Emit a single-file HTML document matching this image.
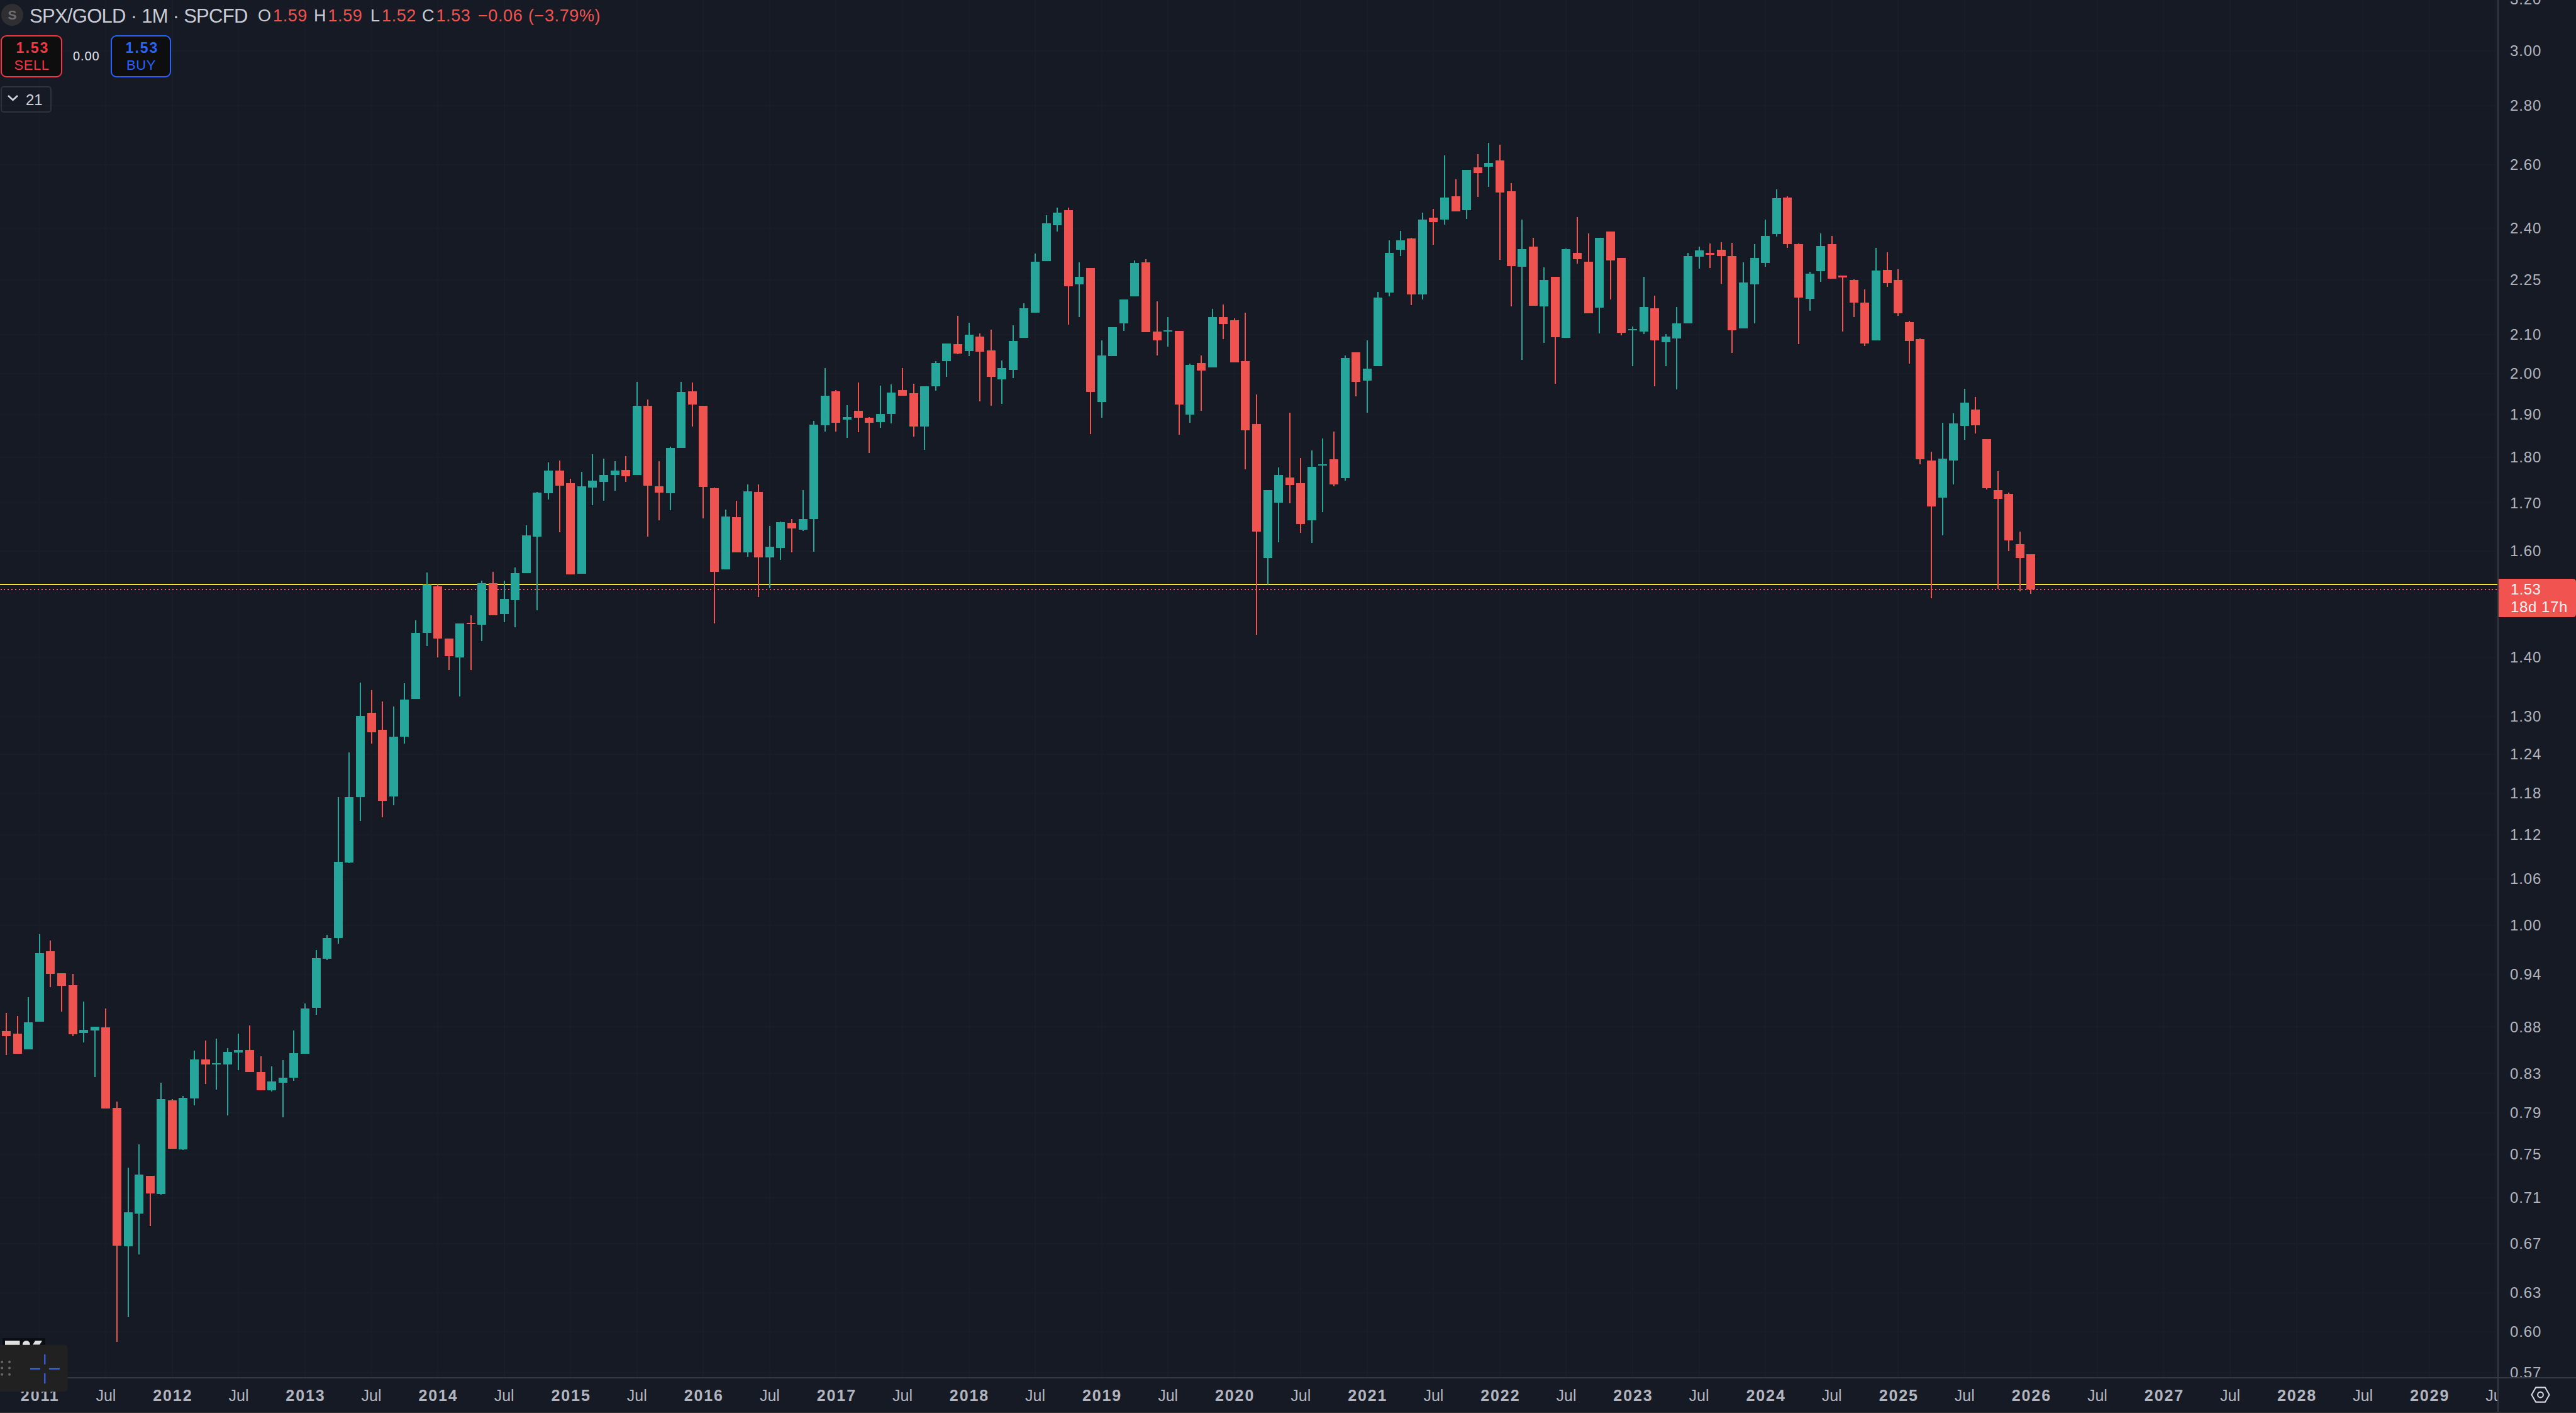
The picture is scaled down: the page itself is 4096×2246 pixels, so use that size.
<!DOCTYPE html>
<html><head><meta charset="utf-8"><style>
html,body{margin:0;padding:0}
body{width:4096px;height:2246px;background:#161a25;position:relative;overflow:hidden;font-family:"Liberation Sans",sans-serif}
svg{position:absolute;left:0;top:0}
.tl{position:absolute;top:2206px;width:200px;text-align:center;font-size:25px;color:#b2b5be;line-height:1}
.yr{letter-spacing:1.9px;text-indent:1.9px}
.pl{position:absolute;left:3991px;font-size:24px;color:#b2b5be;line-height:1;letter-spacing:0.9px}
.t{position:absolute;white-space:nowrap;line-height:1}
.ov{position:absolute;white-space:nowrap;line-height:1;font-size:27px;color:#c9ccd4;top:12px}
.rd{color:#f0534f;letter-spacing:0.6px}
.ov .rd{padding-left:3px}
.ov.rd{padding-left:0}
</style></head><body>
<svg width="4096" height="2246" viewBox="0 0 4096 2246" shape-rendering="crispEdges">
<rect x="62" y="0" width="2" height="2189" fill="#191d28"/>
<rect x="167" y="0" width="2" height="2189" fill="#191d28"/>
<rect x="273" y="0" width="2" height="2189" fill="#191d28"/>
<rect x="378" y="0" width="2" height="2189" fill="#191d28"/>
<rect x="484" y="0" width="2" height="2189" fill="#191d28"/>
<rect x="590" y="0" width="2" height="2189" fill="#191d28"/>
<rect x="695" y="0" width="2" height="2189" fill="#191d28"/>
<rect x="801" y="0" width="2" height="2189" fill="#191d28"/>
<rect x="906" y="0" width="2" height="2189" fill="#191d28"/>
<rect x="1012" y="0" width="2" height="2189" fill="#191d28"/>
<rect x="1117" y="0" width="2" height="2189" fill="#191d28"/>
<rect x="1223" y="0" width="2" height="2189" fill="#191d28"/>
<rect x="1328" y="0" width="2" height="2189" fill="#191d28"/>
<rect x="1434" y="0" width="2" height="2189" fill="#191d28"/>
<rect x="1540" y="0" width="2" height="2189" fill="#191d28"/>
<rect x="1645" y="0" width="2" height="2189" fill="#191d28"/>
<rect x="1751" y="0" width="2" height="2189" fill="#191d28"/>
<rect x="1856" y="0" width="2" height="2189" fill="#191d28"/>
<rect x="1962" y="0" width="2" height="2189" fill="#191d28"/>
<rect x="2067" y="0" width="2" height="2189" fill="#191d28"/>
<rect x="2173" y="0" width="2" height="2189" fill="#191d28"/>
<rect x="2278" y="0" width="2" height="2189" fill="#191d28"/>
<rect x="2384" y="0" width="2" height="2189" fill="#191d28"/>
<rect x="2489" y="0" width="2" height="2189" fill="#191d28"/>
<rect x="2595" y="0" width="2" height="2189" fill="#191d28"/>
<rect x="2701" y="0" width="2" height="2189" fill="#191d28"/>
<rect x="2806" y="0" width="2" height="2189" fill="#191d28"/>
<rect x="2912" y="0" width="2" height="2189" fill="#191d28"/>
<rect x="3017" y="0" width="2" height="2189" fill="#191d28"/>
<rect x="3123" y="0" width="2" height="2189" fill="#191d28"/>
<rect x="3228" y="0" width="2" height="2189" fill="#191d28"/>
<rect x="3334" y="0" width="2" height="2189" fill="#191d28"/>
<rect x="3439" y="0" width="2" height="2189" fill="#191d28"/>
<rect x="3545" y="0" width="2" height="2189" fill="#191d28"/>
<rect x="3651" y="0" width="2" height="2189" fill="#191d28"/>
<rect x="3756" y="0" width="2" height="2189" fill="#191d28"/>
<rect x="3862" y="0" width="2" height="2189" fill="#191d28"/>
<rect x="3967" y="0" width="2" height="2189" fill="#191d28"/>
<rect x="0" y="-2" width="3971" height="2" fill="#191d28"/>
<rect x="0" y="80" width="3971" height="2" fill="#191d28"/>
<rect x="0" y="167" width="3971" height="2" fill="#191d28"/>
<rect x="0" y="261" width="3971" height="2" fill="#191d28"/>
<rect x="0" y="362" width="3971" height="2" fill="#191d28"/>
<rect x="0" y="444" width="3971" height="2" fill="#191d28"/>
<rect x="0" y="531" width="3971" height="2" fill="#191d28"/>
<rect x="0" y="593" width="3971" height="2" fill="#191d28"/>
<rect x="0" y="658" width="3971" height="2" fill="#191d28"/>
<rect x="0" y="726" width="3971" height="2" fill="#191d28"/>
<rect x="0" y="798" width="3971" height="2" fill="#191d28"/>
<rect x="0" y="875" width="3971" height="2" fill="#191d28"/>
<rect x="0" y="1044" width="3971" height="2" fill="#191d28"/>
<rect x="0" y="1138" width="3971" height="2" fill="#191d28"/>
<rect x="0" y="1198" width="3971" height="2" fill="#191d28"/>
<rect x="0" y="1260" width="3971" height="2" fill="#191d28"/>
<rect x="0" y="1326" width="3971" height="2" fill="#191d28"/>
<rect x="0" y="1396" width="3971" height="2" fill="#191d28"/>
<rect x="0" y="1470" width="3971" height="2" fill="#191d28"/>
<rect x="0" y="1548" width="3971" height="2" fill="#191d28"/>
<rect x="0" y="1631" width="3971" height="2" fill="#191d28"/>
<rect x="0" y="1705" width="3971" height="2" fill="#191d28"/>
<rect x="0" y="1768" width="3971" height="2" fill="#191d28"/>
<rect x="0" y="1834" width="3971" height="2" fill="#191d28"/>
<rect x="0" y="1903" width="3971" height="2" fill="#191d28"/>
<rect x="0" y="1976" width="3971" height="2" fill="#191d28"/>
<rect x="0" y="2054" width="3971" height="2" fill="#191d28"/>
<rect x="0" y="2116" width="3971" height="2" fill="#191d28"/>
<rect x="0" y="2181" width="3971" height="2" fill="#191d28"/>
<rect x="0" y="928" width="3971" height="2" fill="#f2e53a"/>
<line x1="0.5" y1="937" x2="3971" y2="937" stroke="#f0607a" stroke-width="2" stroke-dasharray="2 3.94"/>
<rect x="9" y="1609.6" width="2" height="66.9" fill="#ef5350"/>
<rect x="3" y="1639.3" width="14" height="7.4" fill="#ef5350"/>
<rect x="27" y="1614.5" width="2" height="60.0" fill="#ef5350"/>
<rect x="21" y="1643.3" width="14" height="31.2" fill="#ef5350"/>
<rect x="44" y="1584.8" width="2" height="83.2" fill="#26a69a"/>
<rect x="38" y="1624.9" width="14" height="43.1" fill="#26a69a"/>
<rect x="62" y="1484.7" width="2" height="139.7" fill="#26a69a"/>
<rect x="56" y="1514.9" width="14" height="109.5" fill="#26a69a"/>
<rect x="79" y="1494.6" width="2" height="74.3" fill="#ef5350"/>
<rect x="73" y="1512.4" width="14" height="35.7" fill="#ef5350"/>
<rect x="97" y="1547.1" width="2" height="60.5" fill="#ef5350"/>
<rect x="91" y="1547.1" width="14" height="20.3" fill="#ef5350"/>
<rect x="115" y="1548.1" width="2" height="98.6" fill="#ef5350"/>
<rect x="109" y="1566.0" width="14" height="77.8" fill="#ef5350"/>
<rect x="132" y="1591.7" width="2" height="65.4" fill="#26a69a"/>
<rect x="126" y="1636.8" width="14" height="5.5" fill="#26a69a"/>
<rect x="150" y="1632.4" width="2" height="79.2" fill="#26a69a"/>
<rect x="144" y="1632.4" width="14" height="5.9" fill="#26a69a"/>
<rect x="167" y="1602.6" width="2" height="159.6" fill="#ef5350"/>
<rect x="161" y="1633.4" width="14" height="128.8" fill="#ef5350"/>
<rect x="185" y="1751.3" width="2" height="381.6" fill="#ef5350"/>
<rect x="179" y="1761.2" width="14" height="219.0" fill="#ef5350"/>
<rect x="203" y="1856.3" width="2" height="236.9" fill="#26a69a"/>
<rect x="197" y="1927.2" width="14" height="54.0" fill="#26a69a"/>
<rect x="220" y="1819.2" width="2" height="174.9" fill="#26a69a"/>
<rect x="214" y="1867.2" width="14" height="61.5" fill="#26a69a"/>
<rect x="238" y="1868.7" width="2" height="79.8" fill="#ef5350"/>
<rect x="232" y="1868.7" width="14" height="28.3" fill="#ef5350"/>
<rect x="255" y="1720.6" width="2" height="178.4" fill="#26a69a"/>
<rect x="249" y="1747.3" width="14" height="150.2" fill="#26a69a"/>
<rect x="273" y="1747.3" width="2" height="78.3" fill="#ef5350"/>
<rect x="267" y="1748.8" width="14" height="76.8" fill="#ef5350"/>
<rect x="290" y="1742.4" width="2" height="85.2" fill="#26a69a"/>
<rect x="284" y="1745.3" width="14" height="81.3" fill="#26a69a"/>
<rect x="308" y="1669.5" width="2" height="87.7" fill="#26a69a"/>
<rect x="302" y="1684.4" width="14" height="61.4" fill="#26a69a"/>
<rect x="326" y="1654.2" width="2" height="68.3" fill="#ef5350"/>
<rect x="320" y="1684.4" width="14" height="7.4" fill="#ef5350"/>
<rect x="343" y="1650.7" width="2" height="80.8" fill="#26a69a"/>
<rect x="337" y="1690.3" width="14" height="2.0" fill="#26a69a"/>
<rect x="361" y="1665.6" width="2" height="107.5" fill="#26a69a"/>
<rect x="355" y="1671.5" width="14" height="20.3" fill="#26a69a"/>
<rect x="378" y="1643.3" width="2" height="57.4" fill="#26a69a"/>
<rect x="372" y="1668.5" width="14" height="4.0" fill="#26a69a"/>
<rect x="396" y="1630.4" width="2" height="73.3" fill="#ef5350"/>
<rect x="390" y="1668.5" width="14" height="35.2" fill="#ef5350"/>
<rect x="414" y="1679.4" width="2" height="53.6" fill="#ef5350"/>
<rect x="408" y="1704.2" width="14" height="28.8" fill="#ef5350"/>
<rect x="431" y="1695.3" width="2" height="39.6" fill="#26a69a"/>
<rect x="425" y="1719.1" width="14" height="13.4" fill="#26a69a"/>
<rect x="449" y="1685.4" width="2" height="90.7" fill="#26a69a"/>
<rect x="443" y="1712.6" width="14" height="8.0" fill="#26a69a"/>
<rect x="466" y="1638.3" width="2" height="79.7" fill="#26a69a"/>
<rect x="460" y="1674.0" width="14" height="38.6" fill="#26a69a"/>
<rect x="484" y="1594.7" width="2" height="80.3" fill="#26a69a"/>
<rect x="478" y="1603.1" width="14" height="71.9" fill="#26a69a"/>
<rect x="502" y="1510.0" width="2" height="103.0" fill="#26a69a"/>
<rect x="496" y="1523.0" width="14" height="79.0" fill="#26a69a"/>
<rect x="519" y="1486.0" width="2" height="40.0" fill="#26a69a"/>
<rect x="513" y="1491.0" width="14" height="33.0" fill="#26a69a"/>
<rect x="537" y="1267.0" width="2" height="233.0" fill="#26a69a"/>
<rect x="531" y="1369.5" width="14" height="121.5" fill="#26a69a"/>
<rect x="554" y="1195.6" width="2" height="176.4" fill="#26a69a"/>
<rect x="548" y="1267.0" width="14" height="104.0" fill="#26a69a"/>
<rect x="572" y="1084.6" width="2" height="220.0" fill="#26a69a"/>
<rect x="566" y="1138.0" width="14" height="129.0" fill="#26a69a"/>
<rect x="590" y="1097.0" width="2" height="85.0" fill="#ef5350"/>
<rect x="584" y="1132.6" width="14" height="30.9" fill="#ef5350"/>
<rect x="607" y="1114.8" width="2" height="184.0" fill="#ef5350"/>
<rect x="601" y="1160.0" width="14" height="112.7" fill="#ef5350"/>
<rect x="625" y="1123.0" width="2" height="156.5" fill="#26a69a"/>
<rect x="619" y="1171.0" width="14" height="95.0" fill="#26a69a"/>
<rect x="642" y="1086.0" width="2" height="96.0" fill="#26a69a"/>
<rect x="636" y="1112.0" width="14" height="59.0" fill="#26a69a"/>
<rect x="660" y="985.7" width="2" height="125.0" fill="#26a69a"/>
<rect x="654" y="1005.6" width="14" height="105.1" fill="#26a69a"/>
<rect x="678" y="910.0" width="2" height="117.0" fill="#26a69a"/>
<rect x="672" y="929.4" width="14" height="76.6" fill="#26a69a"/>
<rect x="695" y="929.0" width="2" height="115.8" fill="#ef5350"/>
<rect x="689" y="932.0" width="14" height="83.0" fill="#ef5350"/>
<rect x="713" y="1015.0" width="2" height="50.0" fill="#ef5350"/>
<rect x="707" y="1015.0" width="14" height="27.7" fill="#ef5350"/>
<rect x="730" y="991.0" width="2" height="115.5" fill="#26a69a"/>
<rect x="724" y="991.0" width="14" height="53.8" fill="#26a69a"/>
<rect x="748" y="978.0" width="2" height="87.0" fill="#ef5350"/>
<rect x="742" y="990.0" width="14" height="2.0" fill="#ef5350"/>
<rect x="765" y="922.6" width="2" height="96.1" fill="#26a69a"/>
<rect x="759" y="926.7" width="14" height="66.3" fill="#26a69a"/>
<rect x="783" y="908.8" width="2" height="68.7" fill="#ef5350"/>
<rect x="777" y="926.7" width="14" height="50.8" fill="#ef5350"/>
<rect x="801" y="922.6" width="2" height="65.9" fill="#26a69a"/>
<rect x="795" y="952.0" width="14" height="24.0" fill="#26a69a"/>
<rect x="818" y="902.0" width="2" height="94.7" fill="#26a69a"/>
<rect x="812" y="911.0" width="14" height="43.0" fill="#26a69a"/>
<rect x="836" y="834.6" width="2" height="76.4" fill="#26a69a"/>
<rect x="830" y="850.5" width="14" height="60.5" fill="#26a69a"/>
<rect x="853" y="782.0" width="2" height="188.4" fill="#26a69a"/>
<rect x="847" y="783.0" width="14" height="69.7" fill="#26a69a"/>
<rect x="871" y="735.0" width="2" height="59.2" fill="#26a69a"/>
<rect x="865" y="747.5" width="14" height="36.7" fill="#26a69a"/>
<rect x="889" y="731.9" width="2" height="113.6" fill="#ef5350"/>
<rect x="883" y="748.4" width="14" height="23.3" fill="#ef5350"/>
<rect x="906" y="760.8" width="2" height="152.0" fill="#ef5350"/>
<rect x="900" y="768.0" width="14" height="144.8" fill="#ef5350"/>
<rect x="924" y="750.0" width="2" height="161.9" fill="#26a69a"/>
<rect x="918" y="773.3" width="14" height="138.6" fill="#26a69a"/>
<rect x="941" y="722.0" width="2" height="80.9" fill="#26a69a"/>
<rect x="935" y="764.0" width="14" height="10.9" fill="#26a69a"/>
<rect x="959" y="729.0" width="2" height="67.0" fill="#26a69a"/>
<rect x="953" y="754.6" width="14" height="10.9" fill="#26a69a"/>
<rect x="977" y="732.8" width="2" height="46.7" fill="#26a69a"/>
<rect x="971" y="747.5" width="14" height="7.1" fill="#26a69a"/>
<rect x="994" y="725.0" width="2" height="41.0" fill="#ef5350"/>
<rect x="988" y="746.8" width="14" height="10.0" fill="#ef5350"/>
<rect x="1012" y="607.3" width="2" height="147.3" fill="#26a69a"/>
<rect x="1006" y="644.7" width="14" height="109.9" fill="#26a69a"/>
<rect x="1029" y="634.7" width="2" height="218.0" fill="#ef5350"/>
<rect x="1023" y="644.7" width="14" height="127.0" fill="#ef5350"/>
<rect x="1047" y="732.8" width="2" height="94.1" fill="#ef5350"/>
<rect x="1041" y="772.7" width="14" height="10.6" fill="#ef5350"/>
<rect x="1065" y="709.5" width="2" height="101.2" fill="#26a69a"/>
<rect x="1059" y="712.0" width="14" height="72.2" fill="#26a69a"/>
<rect x="1082" y="607.3" width="2" height="104.7" fill="#26a69a"/>
<rect x="1076" y="623.2" width="14" height="88.8" fill="#26a69a"/>
<rect x="1100" y="608.3" width="2" height="70.0" fill="#ef5350"/>
<rect x="1094" y="622.3" width="14" height="20.2" fill="#ef5350"/>
<rect x="1117" y="644.7" width="2" height="179.3" fill="#ef5350"/>
<rect x="1111" y="644.7" width="14" height="129.5" fill="#ef5350"/>
<rect x="1135" y="774.9" width="2" height="215.8" fill="#ef5350"/>
<rect x="1129" y="775.5" width="14" height="133.3" fill="#ef5350"/>
<rect x="1153" y="810.0" width="2" height="95.0" fill="#26a69a"/>
<rect x="1147" y="821.0" width="14" height="84.0" fill="#26a69a"/>
<rect x="1170" y="796.0" width="2" height="82.2" fill="#ef5350"/>
<rect x="1164" y="822.2" width="14" height="56.0" fill="#ef5350"/>
<rect x="1188" y="769.6" width="2" height="115.8" fill="#26a69a"/>
<rect x="1182" y="780.5" width="14" height="97.1" fill="#26a69a"/>
<rect x="1205" y="770.2" width="2" height="178.4" fill="#ef5350"/>
<rect x="1199" y="782.0" width="14" height="104.0" fill="#ef5350"/>
<rect x="1223" y="835.6" width="2" height="99.6" fill="#26a69a"/>
<rect x="1217" y="868.9" width="14" height="17.1" fill="#26a69a"/>
<rect x="1240" y="829.4" width="2" height="60.6" fill="#26a69a"/>
<rect x="1234" y="830.0" width="14" height="40.5" fill="#26a69a"/>
<rect x="1258" y="825.3" width="2" height="52.9" fill="#ef5350"/>
<rect x="1252" y="831.0" width="14" height="8.6" fill="#ef5350"/>
<rect x="1276" y="778.9" width="2" height="65.1" fill="#26a69a"/>
<rect x="1270" y="825.3" width="14" height="16.5" fill="#26a69a"/>
<rect x="1293" y="669.0" width="2" height="208.0" fill="#26a69a"/>
<rect x="1287" y="675.2" width="14" height="149.5" fill="#26a69a"/>
<rect x="1311" y="584.9" width="2" height="100.6" fill="#26a69a"/>
<rect x="1305" y="628.5" width="14" height="47.7" fill="#26a69a"/>
<rect x="1328" y="620.1" width="2" height="65.4" fill="#ef5350"/>
<rect x="1322" y="621.7" width="14" height="49.8" fill="#ef5350"/>
<rect x="1346" y="644.1" width="2" height="52.0" fill="#26a69a"/>
<rect x="1340" y="662.8" width="14" height="4.0" fill="#26a69a"/>
<rect x="1364" y="607.7" width="2" height="79.0" fill="#ef5350"/>
<rect x="1358" y="653.4" width="14" height="10.9" fill="#ef5350"/>
<rect x="1381" y="662.8" width="2" height="57.0" fill="#ef5350"/>
<rect x="1375" y="664.3" width="14" height="7.8" fill="#ef5350"/>
<rect x="1399" y="613.0" width="2" height="66.9" fill="#26a69a"/>
<rect x="1393" y="657.5" width="14" height="13.1" fill="#26a69a"/>
<rect x="1416" y="610.8" width="2" height="62.2" fill="#26a69a"/>
<rect x="1410" y="623.8" width="14" height="33.7" fill="#26a69a"/>
<rect x="1434" y="584.9" width="2" height="43.6" fill="#ef5350"/>
<rect x="1428" y="619.8" width="14" height="8.7" fill="#ef5350"/>
<rect x="1452" y="609.8" width="2" height="84.1" fill="#ef5350"/>
<rect x="1446" y="624.8" width="14" height="53.5" fill="#ef5350"/>
<rect x="1469" y="613.9" width="2" height="100.9" fill="#26a69a"/>
<rect x="1463" y="613.9" width="14" height="64.4" fill="#26a69a"/>
<rect x="1487" y="574.0" width="2" height="46.7" fill="#26a69a"/>
<rect x="1481" y="577.1" width="14" height="36.5" fill="#26a69a"/>
<rect x="1504" y="546.0" width="2" height="52.9" fill="#26a69a"/>
<rect x="1498" y="546.0" width="14" height="28.0" fill="#26a69a"/>
<rect x="1522" y="501.8" width="2" height="61.3" fill="#ef5350"/>
<rect x="1516" y="546.6" width="14" height="15.0" fill="#ef5350"/>
<rect x="1540" y="513.3" width="2" height="52.9" fill="#26a69a"/>
<rect x="1534" y="532.0" width="14" height="25.8" fill="#26a69a"/>
<rect x="1557" y="530.4" width="2" height="107.5" fill="#ef5350"/>
<rect x="1551" y="535.1" width="14" height="23.4" fill="#ef5350"/>
<rect x="1575" y="524.2" width="2" height="120.8" fill="#ef5350"/>
<rect x="1569" y="556.9" width="14" height="42.0" fill="#ef5350"/>
<rect x="1592" y="573.4" width="2" height="68.5" fill="#26a69a"/>
<rect x="1586" y="584.9" width="14" height="17.8" fill="#26a69a"/>
<rect x="1610" y="517.4" width="2" height="83.1" fill="#26a69a"/>
<rect x="1604" y="542.0" width="14" height="46.0" fill="#26a69a"/>
<rect x="1627" y="481.5" width="2" height="55.2" fill="#26a69a"/>
<rect x="1621" y="490.0" width="14" height="46.7" fill="#26a69a"/>
<rect x="1645" y="403.4" width="2" height="93.4" fill="#26a69a"/>
<rect x="1639" y="416.1" width="14" height="80.7" fill="#26a69a"/>
<rect x="1663" y="342.0" width="2" height="72.6" fill="#26a69a"/>
<rect x="1657" y="355.4" width="14" height="59.2" fill="#26a69a"/>
<rect x="1680" y="330.2" width="2" height="37.7" fill="#26a69a"/>
<rect x="1674" y="338.0" width="14" height="20.2" fill="#26a69a"/>
<rect x="1698" y="330.2" width="2" height="185.3" fill="#ef5350"/>
<rect x="1692" y="333.6" width="14" height="121.4" fill="#ef5350"/>
<rect x="1715" y="416.8" width="2" height="87.2" fill="#26a69a"/>
<rect x="1709" y="440.1" width="14" height="11.9" fill="#26a69a"/>
<rect x="1733" y="426.1" width="2" height="263.8" fill="#ef5350"/>
<rect x="1727" y="426.1" width="14" height="196.8" fill="#ef5350"/>
<rect x="1751" y="541.3" width="2" height="123.0" fill="#26a69a"/>
<rect x="1745" y="564.7" width="14" height="73.8" fill="#26a69a"/>
<rect x="1768" y="520.2" width="2" height="46.0" fill="#26a69a"/>
<rect x="1762" y="520.2" width="14" height="46.0" fill="#26a69a"/>
<rect x="1786" y="475.9" width="2" height="49.9" fill="#26a69a"/>
<rect x="1780" y="475.9" width="14" height="38.0" fill="#26a69a"/>
<rect x="1803" y="413.7" width="2" height="57.6" fill="#26a69a"/>
<rect x="1797" y="418.3" width="14" height="53.0" fill="#26a69a"/>
<rect x="1821" y="412.1" width="2" height="115.8" fill="#ef5350"/>
<rect x="1815" y="416.8" width="14" height="111.1" fill="#ef5350"/>
<rect x="1839" y="479.0" width="2" height="85.7" fill="#ef5350"/>
<rect x="1833" y="526.7" width="14" height="14.0" fill="#ef5350"/>
<rect x="1856" y="504.0" width="2" height="46.7" fill="#26a69a"/>
<rect x="1850" y="524.8" width="14" height="2.0" fill="#26a69a"/>
<rect x="1874" y="525.8" width="2" height="165.0" fill="#ef5350"/>
<rect x="1868" y="525.8" width="14" height="116.7" fill="#ef5350"/>
<rect x="1891" y="577.8" width="2" height="94.6" fill="#26a69a"/>
<rect x="1885" y="580.2" width="14" height="78.6" fill="#26a69a"/>
<rect x="1909" y="565.4" width="2" height="87.6" fill="#ef5350"/>
<rect x="1903" y="577.0" width="14" height="11.7" fill="#ef5350"/>
<rect x="1927" y="491.4" width="2" height="92.6" fill="#26a69a"/>
<rect x="1921" y="503.9" width="14" height="80.1" fill="#26a69a"/>
<rect x="1944" y="483.6" width="2" height="55.3" fill="#ef5350"/>
<rect x="1938" y="503.9" width="14" height="10.9" fill="#ef5350"/>
<rect x="1962" y="505.8" width="2" height="70.1" fill="#ef5350"/>
<rect x="1956" y="508.9" width="14" height="67.0" fill="#ef5350"/>
<rect x="1979" y="497.2" width="2" height="248.4" fill="#ef5350"/>
<rect x="1973" y="574.3" width="14" height="109.8" fill="#ef5350"/>
<rect x="1997" y="626.5" width="2" height="382.6" fill="#ef5350"/>
<rect x="1991" y="674.4" width="14" height="170.5" fill="#ef5350"/>
<rect x="2015" y="778.7" width="2" height="150.6" fill="#26a69a"/>
<rect x="2009" y="778.7" width="14" height="108.6" fill="#26a69a"/>
<rect x="2032" y="742.5" width="2" height="119.9" fill="#26a69a"/>
<rect x="2026" y="754.9" width="14" height="44.0" fill="#26a69a"/>
<rect x="2050" y="656.0" width="2" height="144.1" fill="#ef5350"/>
<rect x="2044" y="758.8" width="14" height="11.7" fill="#ef5350"/>
<rect x="2067" y="728.0" width="2" height="118.8" fill="#ef5350"/>
<rect x="2061" y="767.8" width="14" height="65.0" fill="#ef5350"/>
<rect x="2085" y="716.0" width="2" height="147.1" fill="#26a69a"/>
<rect x="2079" y="741.7" width="14" height="85.3" fill="#26a69a"/>
<rect x="2102" y="696.9" width="2" height="116.8" fill="#26a69a"/>
<rect x="2096" y="737.8" width="14" height="2.0" fill="#26a69a"/>
<rect x="2120" y="686.0" width="2" height="86.8" fill="#ef5350"/>
<rect x="2114" y="730.0" width="14" height="39.7" fill="#ef5350"/>
<rect x="2138" y="565.4" width="2" height="198.5" fill="#26a69a"/>
<rect x="2132" y="569.3" width="14" height="190.7" fill="#26a69a"/>
<rect x="2155" y="560.3" width="2" height="70.1" fill="#ef5350"/>
<rect x="2149" y="560.3" width="14" height="47.1" fill="#ef5350"/>
<rect x="2173" y="541.2" width="2" height="114.5" fill="#26a69a"/>
<rect x="2167" y="586.0" width="14" height="19.0" fill="#26a69a"/>
<rect x="2190" y="464.0" width="2" height="117.5" fill="#26a69a"/>
<rect x="2184" y="473.4" width="14" height="108.1" fill="#26a69a"/>
<rect x="2208" y="382.2" width="2" height="88.7" fill="#26a69a"/>
<rect x="2202" y="401.8" width="14" height="63.5" fill="#26a69a"/>
<rect x="2226" y="367.2" width="2" height="39.9" fill="#26a69a"/>
<rect x="2220" y="382.2" width="14" height="14.6" fill="#26a69a"/>
<rect x="2243" y="378.4" width="2" height="106.5" fill="#ef5350"/>
<rect x="2237" y="379.0" width="14" height="88.8" fill="#ef5350"/>
<rect x="2261" y="337.6" width="2" height="138.0" fill="#26a69a"/>
<rect x="2255" y="348.5" width="14" height="119.3" fill="#26a69a"/>
<rect x="2278" y="331.7" width="2" height="57.3" fill="#ef5350"/>
<rect x="2272" y="346.4" width="14" height="6.2" fill="#ef5350"/>
<rect x="2296" y="246.7" width="2" height="110.6" fill="#26a69a"/>
<rect x="2290" y="313.7" width="14" height="34.8" fill="#26a69a"/>
<rect x="2314" y="284.7" width="2" height="51.7" fill="#ef5350"/>
<rect x="2308" y="311.5" width="14" height="24.9" fill="#ef5350"/>
<rect x="2331" y="270.0" width="2" height="77.9" fill="#26a69a"/>
<rect x="2325" y="270.0" width="14" height="63.9" fill="#26a69a"/>
<rect x="2349" y="244.5" width="2" height="68.2" fill="#ef5350"/>
<rect x="2343" y="266.0" width="14" height="9.4" fill="#ef5350"/>
<rect x="2366" y="227.4" width="2" height="69.8" fill="#26a69a"/>
<rect x="2360" y="259.2" width="14" height="6.2" fill="#26a69a"/>
<rect x="2384" y="229.6" width="2" height="183.1" fill="#ef5350"/>
<rect x="2378" y="255.4" width="14" height="50.5" fill="#ef5350"/>
<rect x="2402" y="291.2" width="2" height="195.3" fill="#ef5350"/>
<rect x="2396" y="304.3" width="14" height="118.3" fill="#ef5350"/>
<rect x="2419" y="348.8" width="2" height="223.3" fill="#26a69a"/>
<rect x="2413" y="395.6" width="14" height="28.6" fill="#26a69a"/>
<rect x="2437" y="378.4" width="2" height="107.1" fill="#ef5350"/>
<rect x="2431" y="392.4" width="14" height="93.1" fill="#ef5350"/>
<rect x="2454" y="424.8" width="2" height="119.9" fill="#26a69a"/>
<rect x="2448" y="445.1" width="14" height="41.4" fill="#26a69a"/>
<rect x="2472" y="439.8" width="2" height="169.7" fill="#ef5350"/>
<rect x="2466" y="439.8" width="14" height="96.5" fill="#ef5350"/>
<rect x="2489" y="394.6" width="2" height="142.3" fill="#26a69a"/>
<rect x="2483" y="395.6" width="14" height="141.3" fill="#26a69a"/>
<rect x="2507" y="344.8" width="2" height="74.1" fill="#ef5350"/>
<rect x="2501" y="401.5" width="14" height="10.2" fill="#ef5350"/>
<rect x="2525" y="370.6" width="2" height="127.4" fill="#ef5350"/>
<rect x="2519" y="415.8" width="14" height="82.2" fill="#ef5350"/>
<rect x="2542" y="378.1" width="2" height="152.0" fill="#26a69a"/>
<rect x="2536" y="378.4" width="14" height="110.3" fill="#26a69a"/>
<rect x="2560" y="368.2" width="2" height="107.4" fill="#ef5350"/>
<rect x="2554" y="368.2" width="14" height="45.7" fill="#ef5350"/>
<rect x="2577" y="410.2" width="2" height="123.0" fill="#ef5350"/>
<rect x="2571" y="410.2" width="14" height="118.3" fill="#ef5350"/>
<rect x="2595" y="519.2" width="2" height="62.9" fill="#26a69a"/>
<rect x="2589" y="523.2" width="14" height="2.0" fill="#26a69a"/>
<rect x="2613" y="439.8" width="2" height="90.9" fill="#26a69a"/>
<rect x="2607" y="488.0" width="14" height="39.0" fill="#26a69a"/>
<rect x="2630" y="470.3" width="2" height="143.2" fill="#ef5350"/>
<rect x="2624" y="490.2" width="14" height="50.8" fill="#ef5350"/>
<rect x="2648" y="531.0" width="2" height="51.1" fill="#26a69a"/>
<rect x="2642" y="534.7" width="14" height="8.8" fill="#26a69a"/>
<rect x="2665" y="488.0" width="2" height="130.8" fill="#26a69a"/>
<rect x="2659" y="513.9" width="14" height="24.0" fill="#26a69a"/>
<rect x="2683" y="402.4" width="2" height="111.5" fill="#26a69a"/>
<rect x="2677" y="407.1" width="14" height="106.8" fill="#26a69a"/>
<rect x="2701" y="392.1" width="2" height="34.6" fill="#26a69a"/>
<rect x="2695" y="397.7" width="14" height="10.3" fill="#26a69a"/>
<rect x="2718" y="386.8" width="2" height="39.0" fill="#ef5350"/>
<rect x="2712" y="401.5" width="14" height="3.1" fill="#ef5350"/>
<rect x="2736" y="385.3" width="2" height="65.4" fill="#ef5350"/>
<rect x="2730" y="396.8" width="14" height="10.3" fill="#ef5350"/>
<rect x="2753" y="386.2" width="2" height="174.4" fill="#ef5350"/>
<rect x="2747" y="407.1" width="14" height="117.7" fill="#ef5350"/>
<rect x="2771" y="417.0" width="2" height="104.7" fill="#26a69a"/>
<rect x="2765" y="448.5" width="14" height="73.2" fill="#26a69a"/>
<rect x="2789" y="387.8" width="2" height="126.1" fill="#26a69a"/>
<rect x="2783" y="410.2" width="14" height="41.4" fill="#26a69a"/>
<rect x="2806" y="348.5" width="2" height="75.1" fill="#26a69a"/>
<rect x="2800" y="375.0" width="14" height="43.0" fill="#26a69a"/>
<rect x="2824" y="301.2" width="2" height="74.7" fill="#26a69a"/>
<rect x="2818" y="315.2" width="14" height="57.0" fill="#26a69a"/>
<rect x="2841" y="312.1" width="2" height="81.6" fill="#ef5350"/>
<rect x="2835" y="314.0" width="14" height="74.4" fill="#ef5350"/>
<rect x="2859" y="386.8" width="2" height="159.8" fill="#ef5350"/>
<rect x="2853" y="387.5" width="14" height="85.0" fill="#ef5350"/>
<rect x="2877" y="432.0" width="2" height="62.3" fill="#26a69a"/>
<rect x="2871" y="434.5" width="14" height="40.1" fill="#26a69a"/>
<rect x="2894" y="370.6" width="2" height="77.0" fill="#26a69a"/>
<rect x="2888" y="390.9" width="14" height="40.1" fill="#26a69a"/>
<rect x="2912" y="375.0" width="2" height="67.9" fill="#ef5350"/>
<rect x="2906" y="387.8" width="14" height="55.1" fill="#ef5350"/>
<rect x="2929" y="437.6" width="2" height="89.4" fill="#ef5350"/>
<rect x="2923" y="437.6" width="14" height="3.7" fill="#ef5350"/>
<rect x="2947" y="444.4" width="2" height="59.2" fill="#ef5350"/>
<rect x="2941" y="444.5" width="14" height="36.7" fill="#ef5350"/>
<rect x="2964" y="459.8" width="2" height="90.1" fill="#ef5350"/>
<rect x="2958" y="481.0" width="14" height="64.6" fill="#ef5350"/>
<rect x="2982" y="393.6" width="2" height="147.8" fill="#26a69a"/>
<rect x="2976" y="430.1" width="14" height="111.3" fill="#26a69a"/>
<rect x="3000" y="401.2" width="2" height="54.4" fill="#ef5350"/>
<rect x="2994" y="428.8" width="14" height="21.2" fill="#ef5350"/>
<rect x="3017" y="427.6" width="2" height="74.7" fill="#ef5350"/>
<rect x="3011" y="444.5" width="14" height="53.5" fill="#ef5350"/>
<rect x="3035" y="510.4" width="2" height="67.1" fill="#ef5350"/>
<rect x="3029" y="511.6" width="14" height="30.6" fill="#ef5350"/>
<rect x="3052" y="538.0" width="2" height="200.0" fill="#ef5350"/>
<rect x="3046" y="539.2" width="14" height="191.1" fill="#ef5350"/>
<rect x="3070" y="718.4" width="2" height="232.7" fill="#ef5350"/>
<rect x="3064" y="731.6" width="14" height="73.0" fill="#ef5350"/>
<rect x="3088" y="672.1" width="2" height="179.2" fill="#26a69a"/>
<rect x="3082" y="729.0" width="14" height="62.0" fill="#26a69a"/>
<rect x="3105" y="657.3" width="2" height="112.5" fill="#26a69a"/>
<rect x="3099" y="673.0" width="14" height="59.4" fill="#26a69a"/>
<rect x="3123" y="617.8" width="2" height="81.5" fill="#26a69a"/>
<rect x="3117" y="640.3" width="14" height="36.9" fill="#26a69a"/>
<rect x="3140" y="630.5" width="2" height="58.6" fill="#ef5350"/>
<rect x="3134" y="650.9" width="14" height="25.1" fill="#ef5350"/>
<rect x="3158" y="697.6" width="2" height="80.7" fill="#ef5350"/>
<rect x="3152" y="697.6" width="14" height="78.2" fill="#ef5350"/>
<rect x="3176" y="749.4" width="2" height="186.9" fill="#ef5350"/>
<rect x="3170" y="779.2" width="14" height="13.5" fill="#ef5350"/>
<rect x="3193" y="782.5" width="2" height="93.5" fill="#ef5350"/>
<rect x="3187" y="784.7" width="14" height="73.9" fill="#ef5350"/>
<rect x="3211" y="845.0" width="2" height="94.7" fill="#ef5350"/>
<rect x="3205" y="865.4" width="14" height="22.0" fill="#ef5350"/>
<rect x="3228" y="881.1" width="2" height="62.8" fill="#ef5350"/>
<rect x="3222" y="881.1" width="14" height="56.0" fill="#ef5350"/>
<rect x="3971" y="0" width="2" height="2246" fill="#363a45"/>
<rect x="0" y="2189" width="4096" height="2" fill="#363a45"/>
<rect x="0" y="2244" width="4096" height="2" fill="#2e2e2e"/>
</svg>
<div style="position:absolute;left:0;top:2191px;width:3971px;height:52px;overflow:hidden">
<div style="position:absolute;left:0;top:-2191px;width:3971px;height:2246px">
<div class="tl yr" style="left:-37.2px;font-weight:bold">2011</div><div class="tl" style="left:68.4px;font-weight:normal">Jul</div><div class="tl yr" style="left:173.9px;font-weight:bold">2012</div><div class="tl" style="left:279.5px;font-weight:normal">Jul</div><div class="tl yr" style="left:385.0px;font-weight:bold">2013</div><div class="tl" style="left:490.6px;font-weight:normal">Jul</div><div class="tl yr" style="left:596.1px;font-weight:bold">2014</div><div class="tl" style="left:701.7px;font-weight:normal">Jul</div><div class="tl yr" style="left:807.2px;font-weight:bold">2015</div><div class="tl" style="left:912.8px;font-weight:normal">Jul</div><div class="tl yr" style="left:1018.3px;font-weight:bold">2016</div><div class="tl" style="left:1123.9px;font-weight:normal">Jul</div><div class="tl yr" style="left:1229.4px;font-weight:bold">2017</div><div class="tl" style="left:1335.0px;font-weight:normal">Jul</div><div class="tl yr" style="left:1440.5px;font-weight:bold">2018</div><div class="tl" style="left:1546.1px;font-weight:normal">Jul</div><div class="tl yr" style="left:1651.6px;font-weight:bold">2019</div><div class="tl" style="left:1757.2px;font-weight:normal">Jul</div><div class="tl yr" style="left:1862.7px;font-weight:bold">2020</div><div class="tl" style="left:1968.3px;font-weight:normal">Jul</div><div class="tl yr" style="left:2073.8px;font-weight:bold">2021</div><div class="tl" style="left:2179.4px;font-weight:normal">Jul</div><div class="tl yr" style="left:2284.9px;font-weight:bold">2022</div><div class="tl" style="left:2390.5px;font-weight:normal">Jul</div><div class="tl yr" style="left:2496.0px;font-weight:bold">2023</div><div class="tl" style="left:2601.6px;font-weight:normal">Jul</div><div class="tl yr" style="left:2707.2px;font-weight:bold">2024</div><div class="tl" style="left:2812.7px;font-weight:normal">Jul</div><div class="tl yr" style="left:2918.3px;font-weight:bold">2025</div><div class="tl" style="left:3023.8px;font-weight:normal">Jul</div><div class="tl yr" style="left:3129.4px;font-weight:bold">2026</div><div class="tl" style="left:3234.9px;font-weight:normal">Jul</div><div class="tl yr" style="left:3340.5px;font-weight:bold">2027</div><div class="tl" style="left:3446.0px;font-weight:normal">Jul</div><div class="tl yr" style="left:3551.6px;font-weight:bold">2028</div><div class="tl" style="left:3657.1px;font-weight:normal">Jul</div><div class="tl yr" style="left:3762.7px;font-weight:bold">2029</div><div class="tl" style="left:3868.2px;font-weight:normal">Jul</div><div class="tl yr" style="left:3973.8px;font-weight:bold">2030</div>
</div></div>
<div style="position:absolute;left:3973px;top:0;width:123px;height:2189px;overflow:hidden">
<div style="position:absolute;left:-3973px;top:0;width:4096px;height:2246px">
<div class="pl" style="top:-12.6px">3.20</div><div class="pl" style="top:69.0px">3.00</div><div class="pl" style="top:156.3px">2.80</div><div class="pl" style="top:250.0px">2.60</div><div class="pl" style="top:351.3px">2.40</div><div class="pl" style="top:432.9px">2.25</div><div class="pl" style="top:520.2px">2.10</div><div class="pl" style="top:581.9px">2.00</div><div class="pl" style="top:646.8px">1.90</div><div class="pl" style="top:715.2px">1.80</div><div class="pl" style="top:787.5px">1.70</div><div class="pl" style="top:864.2px">1.60</div><div class="pl" style="top:1033.1px">1.40</div><div class="pl" style="top:1126.9px">1.30</div><div class="pl" style="top:1186.6px">1.24</div><div class="pl" style="top:1249.4px">1.18</div><div class="pl" style="top:1315.4px">1.12</div><div class="pl" style="top:1385.0px">1.06</div><div class="pl" style="top:1458.7px">1.00</div><div class="pl" style="top:1537.0px">0.94</div><div class="pl" style="top:1620.5px">0.88</div><div class="pl" style="top:1694.5px">0.83</div><div class="pl" style="top:1756.9px">0.79</div><div class="pl" style="top:1822.7px">0.75</div><div class="pl" style="top:1892.0px">0.71</div><div class="pl" style="top:1965.3px">0.67</div><div class="pl" style="top:2043.2px">0.63</div><div class="pl" style="top:2104.9px">0.60</div><div class="pl" style="top:2169.8px">0.57</div>
</div></div>
<svg width="4096" height="2246" viewBox="0 0 4096 2246">
<path d="M3973 920 H4091 Q4096 920 4096 925 V976 Q4096 981 4091 981 H3973 Z" fill="#f05350"/>
<rect x="4" y="2127" width="68" height="14" fill="#0b0d12"/>
<rect x="8" y="2131" width="23.5" height="8" fill="#e0e0e0"/>
<circle cx="41.8" cy="2137" r="6" fill="#e0e0e0"/>
<polygon points="52,2137.5 56,2131 67.2,2131 63,2137.5" fill="#e0e0e0"/>
<path d="M-10 2137.7 H101.5 Q107.5 2137.7 107.5 2143.7 V2206.1 Q107.5 2212.1 101.5 2212.1 H-10 Z" fill="#212121"/>
<circle cx="3.1" cy="2164.8" r="2" fill="#6a6a6a"/>
<circle cx="3.1" cy="2174.6" r="2" fill="#6a6a6a"/>
<circle cx="3.1" cy="2184.8" r="2" fill="#6a6a6a"/>
<circle cx="15" cy="2164.8" r="2" fill="#6a6a6a"/>
<circle cx="15" cy="2174.6" r="2" fill="#6a6a6a"/>
<circle cx="15" cy="2184.8" r="2" fill="#6a6a6a"/>
<g stroke="#3d6bff" stroke-width="2"><line x1="71.3" y1="2152.7" x2="71.3" y2="2168.7"/><line x1="71.3" y1="2182.7" x2="71.3" y2="2199.2"/><line x1="48" y1="2175.8" x2="64" y2="2175.8"/><line x1="78" y1="2175.8" x2="95" y2="2175.8"/></g>
<polygon points="4025.4,2217 4032,2205.4 4047,2205.4 4053.6,2217 4047,2228.6 4032,2228.6" fill="none" stroke="#d1d4dc" stroke-width="2.1" stroke-linejoin="round"/>
<circle cx="4039.5" cy="2217" r="4.4" fill="none" stroke="#d1d4dc" stroke-width="2.1"/>
</svg>
<div class="t" style="left:3992px;top:925px;font-size:24px;color:#fff2f2;letter-spacing:0.4px">1.53</div>
<div class="t" style="left:3992px;top:952.5px;font-size:24px;color:#fff2f2;letter-spacing:0.6px">18d 17h</div>
<svg width="60" height="50" style="left:0;top:0"><circle cx="19.4" cy="23.7" r="17.5" fill="#2f2f31"/><text x="19.5" y="31.2" text-anchor="middle" font-family="Liberation Sans" font-size="21" font-weight="bold" fill="#6e6e70">S</text></svg>
<div class="t" style="left:47px;top:10px;font-size:31px;color:#c9ccd4;letter-spacing:-0.72px">SPX/GOLD · 1M · SPCFD</div>
<div class="ov" style="left:410px">O<span class="rd">1.59</span></div>
<div class="ov" style="left:499px">H<span class="rd">1.59</span></div>
<div class="ov" style="left:589px">L<span class="rd">1.52</span></div>
<div class="ov" style="left:671px">C<span class="rd">1.53</span></div>
<div class="ov rd" style="left:760px">−0.06</div>
<div class="ov rd" style="left:840px">(−3.79%)</div>
<div style="position:absolute;left:1px;top:56px;width:94px;height:63px;border:2.5px solid #f23645;border-radius:9px;background:#0e0e0e"></div>
<div class="t" style="left:1px;top:65px;width:100px;text-align:center;font-size:23px;font-weight:bold;color:#f23645;letter-spacing:2px;text-indent:2px">1.53</div>
<div class="t" style="left:1px;top:93px;width:99px;text-align:center;font-size:22px;color:#f23645;letter-spacing:0.6px">SELL</div>
<div class="t" style="left:116px;top:79px;font-size:20px;color:#e0e3eb;letter-spacing:0.9px">0.00</div>
<div style="position:absolute;left:176px;top:56px;width:92px;height:63px;border:2.5px solid #2962ff;border-radius:9px;background:#0e0e0e"></div>
<div class="t" style="left:176px;top:65px;width:98px;text-align:center;font-size:23px;font-weight:bold;color:#2962ff;letter-spacing:2px;text-indent:2px">1.53</div>
<div class="t" style="left:176px;top:93px;width:97px;text-align:center;font-size:22px;color:#2962ff;letter-spacing:0.6px">BUY</div>
<div style="position:absolute;left:1px;top:137px;width:77px;height:38px;border:2px solid #2f323c;border-radius:5px"></div>
<svg width="40" height="40" style="left:0;top:137px"><path d="M13 15 L20.5 22 L28 15" fill="none" stroke="#d1d4dc" stroke-width="2.6"/></svg>
<div class="t" style="left:41px;top:147px;font-size:24px;color:#d1d4dc">21</div>
</body></html>
